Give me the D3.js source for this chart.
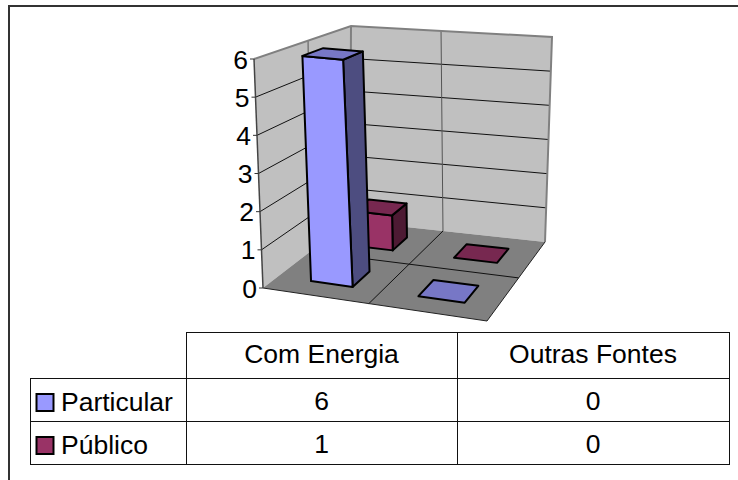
<!DOCTYPE html>
<html>
<head>
<meta charset="utf-8">
<script src="https://cdn.jsdelivr.net/npm/d3@7"></script>
<style>
  html, body { margin: 0; padding: 0; background: #fff; }
  svg { display: block; }
  text { font-family: "Liberation Sans", Arial, sans-serif; font-size: 26.5px; fill: #000; }
</style>
</head>
<body>
<svg width="738" height="480"></svg>
<script>
var categories = ["Com Energia", "Outras Fontes"];
var seriesNames = ["Particular", "Público"];
var particular = [6, 0];
var publico = [1, 0];
var yTicks = [0, 1, 2, 3, 4, 5, 6];
var seriesValues = [particular, publico];

var frontFill = ["#9999ff", "#993366"],
    topFill = ["#7777c6", "#772850"],
    sideFill = ["#4d4d80", "#4d1a33"];

var svg = d3.select("svg");

// outer frame, only left and top show
svg.append("path")
    .attr("d", "M9,480V6H738")
    .attr("fill", "none")
    .attr("stroke", "#333")
    .attr("stroke-width", 2);

// corners of the 3d box on screen: front-left, front-right, back-right, back-left
var floorQuad = [[263, 288], [487, 321], [545, 242], [350, 221]],
    topQuad = [[254, 59], [493, 84], [552, 37], [351, 26]];

function homography(q) {
  var dx1 = q[1][0] - q[2][0], dx2 = q[3][0] - q[2][0], sx = q[0][0] - q[1][0] + q[2][0] - q[3][0],
      dy1 = q[1][1] - q[2][1], dy2 = q[3][1] - q[2][1], sy = q[0][1] - q[1][1] + q[2][1] - q[3][1],
      det = dx1 * dy2 - dx2 * dy1,
      g = (sx * dy2 - dx2 * sy) / det,
      h = (dx1 * sy - sx * dy1) / det,
      a = q[1][0] - q[0][0] + g * q[1][0],
      b = q[3][0] - q[0][0] + h * q[3][0],
      d = q[1][1] - q[0][1] + g * q[1][1],
      e = q[3][1] - q[0][1] + h * q[3][1];
  return function(u, v) {
    var w = g * u + h * v + 1;
    return [(a * u + b * v + q[0][0]) / w, (d * u + e * v + q[0][1]) / w];
  };
}

var floorAt = homography(floorQuad),
    topAt = homography(topQuad);

var x = d3.scaleBand().domain(categories).range([0.015, 1.015]).paddingInner(0.6).paddingOuter(0.3),
    z = d3.scaleBand().domain(seriesNames).range([0, 1]).paddingInner(0.6).paddingOuter(0.3),
    y = d3.scaleLinear().domain([0, 6]).range([0, 1]);

// u, w in 0..1 across and into the box, val in data units
function project(u, w, val) {
  var a = floorAt(u, w), b = topAt(u, w), t = y(val);
  return [a[0] + (b[0] - a[0]) * t, a[1] + (b[1] - a[1]) * t];
}

function poly(pts) { return "M" + pts.map(function(p) { return p.join(","); }).join("L") + "Z"; }
function seg(p, q) {
  return g3d.append("line").attr("x1", p[0]).attr("y1", p[1]).attr("x2", q[0]).attr("y2", q[1]);
}

var g3d = svg.append("g");

// walls and floor
g3d.append("path").attr("d", poly([project(0,0,0), project(0,1,0), project(0,1,6), project(0,0,6)]))
    .attr("fill", "#c0c0c0");
g3d.append("path").attr("d", poly([project(0,1,0), project(1,1,0), project(1,1,6), project(0,1,6)]))
    .attr("fill", "#c0c0c0");
g3d.append("path").attr("d", poly([project(0,0,0), project(1,0,0), project(1,1,0), project(0,1,0)]))
    .attr("fill", "#808080");

// gridlines
yTicks.filter(function(t) { return t > 0 && t < 6; }).forEach(function(t) {
  seg(project(0,0,t), project(0,1,t)).attr("stroke", "#111").attr("stroke-width", 1);
  seg(project(0,1,t), project(1,1,t)).attr("stroke", "#111").attr("stroke-width", 1);
});
seg(project(0,0.5,0), project(0,0.5,6)).attr("stroke", "#555").attr("stroke-width", 1);
seg(project(0.5,1,0), project(0.5,1,6)).attr("stroke", "#555").attr("stroke-width", 1);
seg(project(0.5,0,0), project(0.5,1,0)).attr("stroke", "#111").attr("stroke-width", 1);
seg(project(0,0.5,0), project(1,0.5,0)).attr("stroke", "#111").attr("stroke-width", 1);

// wall edges
g3d.append("path")
    .attr("d", "M" + [project(0,0,6), project(0,1,6), project(1,1,6), project(1,1,0)].map(String).join("L")
      + "M" + project(0,1,6) + "L" + project(0,1,0))
    .attr("fill", "none").attr("stroke", "#808080").attr("stroke-width", 2);
g3d.append("path")
    .attr("d", "M" + [project(0,0,0), project(1,0,0), project(1,1,0)].map(String).join("L"))
    .attr("fill", "none").attr("stroke", "#222").attr("stroke-width", 1);
seg(project(0,0,0), project(0,0,6)).attr("stroke", "#444").attr("stroke-width", 1.5);

// axis ticks and labels
var axis = svg.append("g");
yTicks.forEach(function(t) {
  var p = project(0,0,t);
  axis.append("line").attr("x1", p[0] - 4).attr("x2", p[0]).attr("y1", p[1]).attr("y2", p[1])
      .attr("stroke", "#333").attr("stroke-width", 1);
  axis.append("text").attr("x", p[0] - 6).attr("y", p[1]).attr("dy", "0.36em")
      .attr("text-anchor", "end").text(t);
});

// bars, back row first
[1, 0].forEach(function(si) {
  categories.forEach(function(cat, ci) {
    var val = seriesValues[si][ci],
        u0 = x(cat), u1 = u0 + x.bandwidth(),
        w0 = z(seriesNames[si]), w1 = w0 + z.bandwidth(),
        bar = g3d.append("g").attr("stroke", "#000").attr("stroke-width", 2).attr("stroke-linejoin", "round");
    if (val > 0) {
      bar.append("path").attr("d", poly([project(u1,w0,0), project(u1,w1,0), project(u1,w1,val), project(u1,w0,val)]))
          .attr("fill", sideFill[si]);
      bar.append("path").attr("d", poly([project(u0,w0,0), project(u1,w0,0), project(u1,w0,val), project(u0,w0,val)]))
          .attr("fill", frontFill[si]);
    }
    bar.append("path").attr("d", poly([project(u0,w0,val), project(u1,w0,val), project(u1,w1,val), project(u0,w1,val)]))
        .attr("fill", topFill[si]);
  });
});

// data table
var colX = [186, 457, 729],
    rowY = [332, 378, 421, 464],
    tableLeft = 30,
    table = svg.append("g").attr("stroke", "#111").attr("stroke-width", 1).attr("shape-rendering", "crispEdges");

table.append("path").attr("fill", "none").attr("d",
  "M" + colX[0] + "," + rowY[0] + "H" + colX[2] + "V" + rowY[3] + "H" + tableLeft + "V" + rowY[1] + "H" + colX[2]
  + "M" + tableLeft + "," + rowY[2] + "H" + colX[2]
  + "M" + colX[0] + "," + rowY[0] + "V" + rowY[3]
  + "M" + colX[1] + "," + rowY[0] + "V" + rowY[3]);

var tableText = svg.append("g");
categories.forEach(function(cat, ci) {
  var cx = (colX[ci] + colX[ci + 1]) / 2;
  tableText.append("text").attr("x", cx).attr("y", 363).attr("text-anchor", "middle").text(cat);
  seriesNames.forEach(function(name, si) {
    tableText.append("text").attr("x", cx).attr("y", rowY[si + 2] - 11).attr("text-anchor", "middle")
        .text(seriesValues[si][ci]);
  });
});
seriesNames.forEach(function(name, si) {
  var base = rowY[si + 2] - 10;
  tableText.append("rect").attr("x", 36.5).attr("y", base - 17).attr("width", 17).attr("height", 17)
      .attr("fill", frontFill[si]).attr("stroke", "#000").attr("stroke-width", 2);
  tableText.append("text").attr("x", 61).attr("y", base).text(name);
});
</script>
</body>
</html>
